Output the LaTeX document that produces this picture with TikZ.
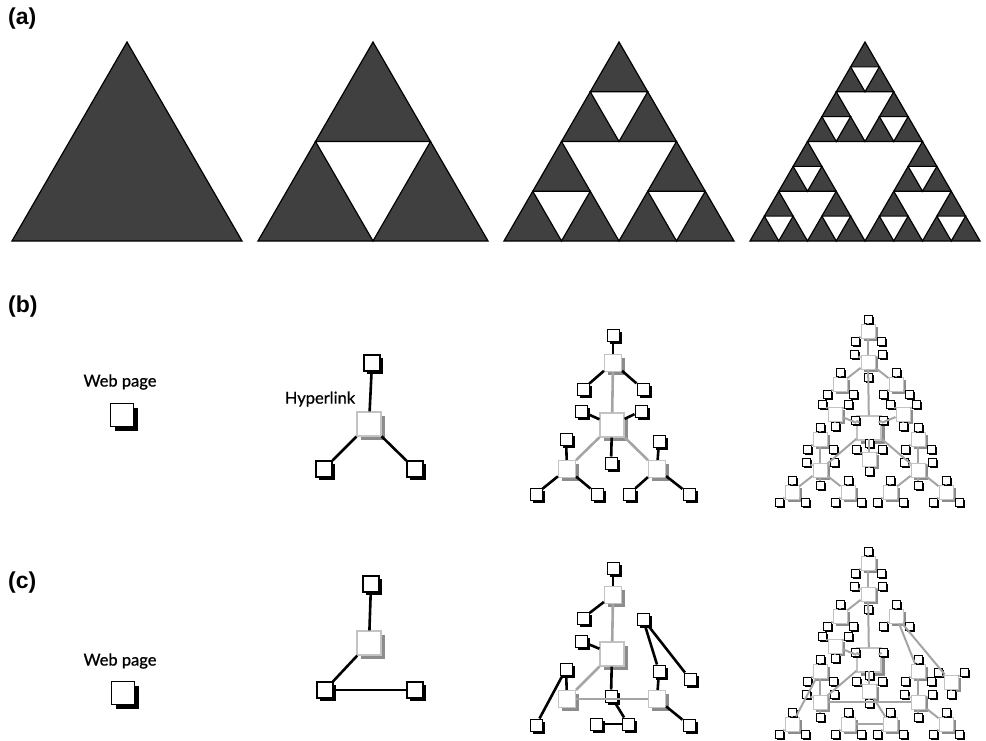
\documentclass[tikz,border=0pt]{standalone}
\usepackage{fontspec}
\setmainfont{Lato}
\newfontfamily\capfont{Lato}[FakeBold=0.8]
\newfontfamily\labfont{Liberation Sans}
\usetikzlibrary{shadows}
\definecolor{trifill}{RGB}{64,64,64}
\definecolor{hubline}{RGB}{195,195,195}
\definecolor{hubshade}{RGB}{140,140,140}
\definecolor{linkgray}{RGB}{165,165,165}
\begin{document}
\begin{tikzpicture}[x=1pt,y=-1pt,
  panel/.style={font=\labfont\bfseries\fontsize{23}{23}\selectfont, anchor=west, inner sep=0pt},
  caption/.style={font=\capfont\fontsize{16.5}{16.5}\selectfont, inner sep=0pt},
  sierp/.style={fill=trifill, draw=black, line width=1.2pt},
  hole/.style={fill=white, draw=black, line width=1.2pt},
  sq/.style={rectangle, inner sep=0pt, fill=white},
  bigpage/.style={sq, draw=black, line width=1.2pt, minimum size=23pt,
    drop shadow={opacity=1, fill=black, shadow xshift=4pt, shadow yshift=-4pt}},
  page/.style={sq, draw=black, line width=1.1pt, minimum size=16pt,
    drop shadow={opacity=1, fill=black, shadow xshift=3pt, shadow yshift=-3pt}},
  leaf/.style={sq, draw=black, line width=1pt, minimum size=12pt,
    drop shadow={opacity=1, fill=black, shadow xshift=2.5pt, shadow yshift=-2.5pt}},
  dot/.style={sq, draw=black, line width=0.9pt, minimum size=8pt,
    drop shadow={opacity=1, fill=black, shadow xshift=1.8pt, shadow yshift=-1.8pt}},
  hubsq/.style={sq, draw=hubline, line width=1.2pt},
  bighub/.style={hubsq, minimum size=24pt,
    drop shadow={opacity=1, fill=hubshade, shadow xshift=4pt, shadow yshift=-4pt}},
  hub/.style={hubsq, minimum size=17pt,
    drop shadow={opacity=1, fill=hubshade, shadow xshift=3pt, shadow yshift=-3pt}},
  minihub/.style={hubsq, line width=1pt, minimum size=14pt,
    drop shadow={opacity=1, fill=hubshade, shadow xshift=2.5pt, shadow yshift=-2.5pt}},
  link/.style={black, line width=2.6pt},
  glink/.style={linkgray, line width=2.6pt},
  flink/.style={linkgray, line width=2pt}]
  \useasboundingbox (0,0) rectangle (986,740);
  % Row labels
  \node[panel] (la) at (8,19) {(a)};
  \node[panel] (lb) at (8,307) {(b)};
  \node[panel] (lc) at (8,583) {(c)};
  % (a) Step 1: full triangle
  \begin{scope}[xshift=12pt, yshift=-241pt, x=28.75pt, y=24.875pt]
    \draw[sierp] (0,0) -- (8,0) -- (4,8) -- cycle;
  \end{scope}
  % (a) Step 2: one hole
  \begin{scope}[xshift=258pt, yshift=-241pt, x=28.75pt, y=24.875pt]
    \draw[sierp] (0,0) -- (8,0) -- (4,8) -- cycle;
    \foreach \bx/\by/\s in {0/0/8}
      \draw[hole] ({\bx+\s/4},{\by+\s/2}) -- ({\bx+3*\s/4},{\by+\s/2}) -- ({\bx+\s/2},\by) -- cycle;
  \end{scope}
  % (a) Step 3: four holes
  \begin{scope}[xshift=504pt, yshift=-241pt, x=28.75pt, y=24.875pt]
    \draw[sierp] (0,0) -- (8,0) -- (4,8) -- cycle;
    \foreach \bx/\by/\s in {0/0/8, 0/0/4, 4/0/4, 2/4/4}
      \draw[hole] ({\bx+\s/4},{\by+\s/2}) -- ({\bx+3*\s/4},{\by+\s/2}) -- ({\bx+\s/2},\by) -- cycle;
  \end{scope}
  % (a) Step 4: thirteen holes
  \begin{scope}[xshift=750pt, yshift=-241pt, x=28.75pt, y=24.875pt]
    \draw[sierp] (0,0) -- (8,0) -- (4,8) -- cycle;
    \foreach \bx/\by/\s in {0/0/8, 0/0/4, 4/0/4, 2/4/4, 0/0/2, 2/0/2, 1/2/2,
        4/0/2, 6/0/2, 5/2/2, 2/4/2, 4/4/2, 3/6/2}
      \draw[hole] ({\bx+\s/4},{\by+\s/2}) -- ({\bx+3*\s/4},{\by+\s/2}) -- ({\bx+\s/2},\by) -- cycle;
  \end{scope}
  % (b) Step 1: a single page
  \node[caption] (wp1) at (120,382) {Web page};
  \node[bigpage] (b1) at (122,415) {};
  % (b) Step 2: one hub with three pages
  \node[page] (b2t) at (372,363) {};
  \node[bighub] (b2c) at (369,424) {};
  \node[page] (b2l) at (324,469) {};
  \node[page] (b2r) at (415,469) {};
  \node[caption] (hl) at (320,399) {Hyperlink};
  \foreach \b in {t,l,r}
    \draw[link] (b2c) -- (b2\b);
  % (b) Step 3: two levels
  \node[leaf] (b3top) at (613,335) {};
  \node[hub] (b3t) at (613,363) {};
  \node[leaf] (b3tl) at (583,389) {};
  \node[leaf] (b3tr) at (643,389) {};
  \node[bighub] (b3c) at (612,425) {};
  \node[leaf] (b3cl) at (581,411) {};
  \node[leaf] (b3cr) at (641,411) {};
  \node[leaf] (b3cd) at (611,463) {};
  \node[hub] (b3l) at (567,469) {};
  \node[leaf] (b3lt) at (566,439) {};
  \node[leaf] (b3ll) at (536,494) {};
  \node[leaf] (b3lr) at (597,494) {};
  \node[hub] (b3r) at (657,469) {};
  \node[leaf] (b3rt) at (659,441) {};
  \node[leaf] (b3rl) at (629,494) {};
  \node[leaf] (b3rr) at (689,494) {};
  \foreach \a/\b in {top/t, t/tl, t/tr, c/cl, c/cr, c/cd, l/lt, l/ll, l/lr, r/rt, r/rl, r/rr}
    \draw[link] (b3\a) -- (b3\b);
  \foreach \a/\b in {c/t, c/l, c/r}
    \draw[glink] (b3\a) -- (b3\b);
  % (b) Step 4: three copies round an upside-down one
  \begin{scope}[shift={(869,428)}]
    \foreach \nm/\cx/\cy/\s/\st/\qx/\qy/\px/\py in {m/0/0/-1/bighub/-34/14/34/14,
        t/-1/-66/1/minihub/-28/22/28/22, l/-49/42/1/minihub/-28/22/28/22,
        r/49/42/1/minihub/-28/22/28/22} {
      \node[\st] (b4\nm) at (\cx,\cy) {};
      \foreach \h/\hx/\hy in {1/0/-31, 2/\qx/\qy, 3/\px/\py} {
        \node[minihub] (b4\nm\h) at ({\cx+\hx},{\cy+\s*\hy}) {};
        \foreach \k/\kx/\ky in {1/0/-12, 2/-13/10, 3/13/10} {
          \node[dot] (b4\nm\h\k) at ({\cx+\hx+\kx},{\cy+\s*(\hy+\ky)}) {};
          \draw[flink] (b4\nm\h) -- (b4\nm\h\k);
        }
      }
      \foreach \k/\kx/\ky in {1/-14/-8, 2/14/-8, 3/0/15} {
        \node[dot] (b4\nm c\k) at ({\cx+\kx},{\cy+\ky}) {};
        \draw[flink] (b4\nm) -- (b4\nm c\k);
      }
    }
    \foreach \nm in {m,t,l,r}
      \foreach \h in {1,2,3}
        \draw[flink] (b4\nm) -- (b4\nm\h);
    \foreach \nm in {t,l,r}
      \draw[flink] (b4m) -- (b4\nm);
  \end{scope}
  % (c) Step 1: a single page
  \node[caption] (wp2) at (120,661) {Web page};
  \node[bigpage] (c1) at (123,693) {};
  % (c) Step 2: one link rewired
  \node[page] (c2t) at (371,584) {};
  \node[bighub] (c2c) at (369,643) {};
  \node[page] (c2l) at (325,690) {};
  \node[page] (c2r) at (415,690) {};
  \foreach \a/\b in {c/t, c/l, l/r}
    \draw[link] (c2\a) -- (c2\b);
  % (c) Step 3: several links rewired
  \node[leaf] (c3top) at (613,568) {};
  \node[hub] (c3t) at (613,595) {};
  \node[leaf] (c3tl) at (583,618) {};
  \node[leaf] (c3tr) at (643,619) {};
  \node[bighub] (c3c) at (612,654) {};
  \node[leaf] (c3cl) at (581,641) {};
  \node[leaf] (c3cr) at (690,679) {};
  \node[leaf] (c3cd) at (611,696) {};
  \node[hub] (c3l) at (567,699) {};
  \node[leaf] (c3lt) at (566,669) {};
  \node[leaf] (c3ll) at (536,725) {};
  \node[leaf] (c3lr) at (596,724) {};
  \node[hub] (c3r) at (657,699) {};
  \node[leaf] (c3rt) at (659,671) {};
  \node[leaf] (c3rl) at (628,724) {};
  \node[leaf] (c3rr) at (689,725) {};
  \foreach \a/\b in {top/t, t/tl, c/cl, c/cd, l/lt, lt/ll, cd/rl, lr/rl, tr/rt, tr/cr, r/rt, r/rr}
    \draw[link] (c3\a) -- (c3\b);
  \foreach \a/\b in {c/t, c/l, l/r}
    \draw[glink] (c3\a) -- (c3\b);
  % (c) Step 4: rewired copies
  \begin{scope}[shift={(869,660)}]
    \foreach \nm/\cx/\cy/\s/\st/\qx/\qy/\px/\py in {m/0/0/-1/bighub/-34/14/82/-22,
        t/-1/-66/1/minihub/-28/22/28/22, l/-49/42/1/minihub/-28/22/28/22,
        r/49/42/1/minihub/-28/22/28/22} {
      \node[\st] (c4\nm) at (\cx,\cy) {};
      \foreach \h/\hx/\hy in {1/0/-31, 2/\qx/\qy, 3/\px/\py} {
        \node[minihub] (c4\nm\h) at ({\cx+\hx},{\cy+\s*\hy}) {};
        \foreach \k/\kx/\ky in {1/0/-12, 2/-13/10, 3/13/10} {
          \node[dot] (c4\nm\h\k) at ({\cx+\hx+\kx},{\cy+\s*(\hy+\ky)}) {};
          \draw[flink] (c4\nm\h) -- (c4\nm\h\k);
        }
      }
      \foreach \k/\kx/\ky in {1/-14/-8, 2/14/-8, 3/0/15} {
        \node[dot] (c4\nm c\k) at ({\cx+\kx},{\cy+\ky}) {};
        \draw[flink] (c4\nm) -- (c4\nm c\k);
      }
    }
    \foreach \a/\b in {m/m1, m/m2, t/t1, t/t2, l/l1, r/r1, r/r3, m/t, m/l, l/r,
        l1/l2, l3/r2, m1/r2, t3/r1, t3/m3}
      \draw[flink] (c4\a) -- (c4\b);
  \end{scope}
\end{tikzpicture}
\end{document}
